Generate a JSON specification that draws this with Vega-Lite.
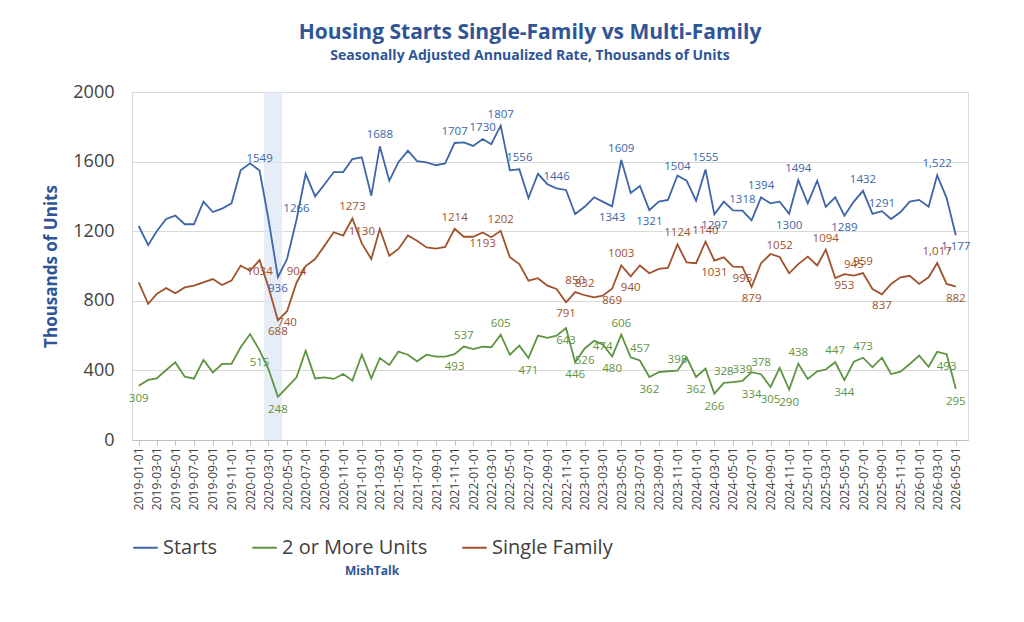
{
"$schema":"https://vega.github.io/schema/vega-lite/v6.json",
"width":836,"height":348,
"padding":{"left":42,"top":22,"right":5,"bottom":5},
"background":"white",
"title":{"text":"Housing Starts Single-Family vs Multi-Family","subtitle":"Seasonally Adjusted Annualized Rate, Thousands of Units","color":"#2f5597","subtitleColor":"#2f5597","fontSize":21,"subtitleFontSize":14,"subtitleFontWeight":"bold","font":"Open Sans","subtitleFont":"Open Sans","fontWeight":"bold","anchor":"middle","offset":20,"subtitlePadding":6,"dx":-20},
"config":{"view":{"stroke":"#d9d9d9"},"font":"Open Sans"},
"datasets":{
"main":[
{"d":"2019-01-01","S":1230,"F":906,"M":312},{"d":"2019-02-01","S":1120,"F":782,"M":345},{"d":"2019-03-01","S":1200,"F":839,"M":354},{"d":"2019-04-01","S":1270,"F":873,"M":402},{"d":"2019-05-01","S":1290,"F":843,"M":446},{"d":"2019-06-01","S":1240,"F":877,"M":364},{"d":"2019-07-01","S":1240,"F":887,"M":352},{"d":"2019-08-01","S":1370,"F":906,"M":460},{"d":"2019-09-01","S":1310,"F":925,"M":389},{"d":"2019-10-01","S":1330,"F":891,"M":437},{"d":"2019-11-01","S":1360,"F":916,"M":437},{"d":"2019-12-01","S":1550,"F":1002,"M":533},
{"d":"2020-01-01","S":1590,"F":973,"M":609},{"d":"2020-02-01","S":1549,"F":1034,"M":515},{"d":"2020-03-01","S":1270,"F":879,"M":408},{"d":"2020-04-01","S":936,"F":688,"M":248},{"d":"2020-05-01","S":1040,"F":740,"M":303},{"d":"2020-06-01","S":1266,"F":904,"M":360},{"d":"2020-07-01","S":1530,"F":1000,"M":513},{"d":"2020-08-01","S":1400,"F":1040,"M":354},{"d":"2020-09-01","S":1470,"F":1117,"M":360},{"d":"2020-10-01","S":1540,"F":1194,"M":351},{"d":"2020-11-01","S":1540,"F":1175,"M":379},{"d":"2020-12-01","S":1615,"F":1273,"M":341},
{"d":"2021-01-01","S":1625,"F":1130,"M":490},{"d":"2021-02-01","S":1404,"F":1040,"M":354},{"d":"2021-03-01","S":1688,"F":1213,"M":471},{"d":"2021-04-01","S":1490,"F":1059,"M":431},{"d":"2021-05-01","S":1597,"F":1098,"M":508},{"d":"2021-06-01","S":1663,"F":1175,"M":490},{"d":"2021-07-01","S":1603,"F":1145,"M":452},{"d":"2021-08-01","S":1596,"F":1107,"M":490},{"d":"2021-09-01","S":1579,"F":1100,"M":479},{"d":"2021-10-01","S":1590,"F":1110,"M":479},{"d":"2021-11-01","S":1707,"F":1214,"M":493},{"d":"2021-12-01","S":1710,"F":1168,"M":537},
{"d":"2022-01-01","S":1690,"F":1168,"M":523},{"d":"2022-02-01","S":1730,"F":1193,"M":537},{"d":"2022-03-01","S":1700,"F":1165,"M":533},{"d":"2022-04-01","S":1807,"F":1202,"M":605},{"d":"2022-05-01","S":1550,"F":1050,"M":490},{"d":"2022-06-01","S":1556,"F":1011,"M":542},{"d":"2022-07-01","S":1390,"F":916,"M":471},{"d":"2022-08-01","S":1530,"F":930,"M":600},{"d":"2022-09-01","S":1470,"F":887,"M":587},{"d":"2022-10-01","S":1446,"F":868,"M":600},{"d":"2022-11-01","S":1437,"F":791,"M":643},{"d":"2022-12-01","S":1299,"F":850,"M":446},
{"d":"2023-01-01","S":1340,"F":832,"M":526},{"d":"2023-02-01","S":1395,"F":820,"M":570},{"d":"2023-03-01","S":1370,"F":829,"M":550},{"d":"2023-04-01","S":1343,"F":869,"M":480},{"d":"2023-05-01","S":1609,"F":1003,"M":606},{"d":"2023-06-01","S":1420,"F":940,"M":475},{"d":"2023-07-01","S":1460,"F":1003,"M":457},{"d":"2023-08-01","S":1321,"F":958,"M":362},{"d":"2023-09-01","S":1370,"F":983,"M":390},{"d":"2023-10-01","S":1380,"F":989,"M":395},{"d":"2023-11-01","S":1520,"F":1124,"M":398},{"d":"2023-12-01","S":1490,"F":1021,"M":475},
{"d":"2024-01-01","S":1375,"F":1016,"M":362},{"d":"2024-02-01","S":1555,"F":1140,"M":410},{"d":"2024-03-01","S":1297,"F":1031,"M":266},{"d":"2024-04-01","S":1370,"F":1050,"M":328},{"d":"2024-05-01","S":1320,"F":996,"M":333},{"d":"2024-06-01","S":1318,"F":995,"M":339},{"d":"2024-07-01","S":1262,"F":879,"M":390},{"d":"2024-08-01","S":1394,"F":1016,"M":378},{"d":"2024-09-01","S":1360,"F":1069,"M":305},{"d":"2024-10-01","S":1370,"F":1052,"M":414},{"d":"2024-11-01","S":1300,"F":958,"M":290},{"d":"2024-12-01","S":1494,"F":1011,"M":438},
{"d":"2025-01-01","S":1360,"F":1054,"M":351},{"d":"2025-02-01","S":1490,"F":1003,"M":395},{"d":"2025-03-01","S":1340,"F":1094,"M":405},{"d":"2025-04-01","S":1395,"F":931,"M":447},{"d":"2025-05-01","S":1289,"F":953,"M":344},{"d":"2025-06-01","S":1370,"F":945,"M":450},{"d":"2025-07-01","S":1432,"F":959,"M":473},{"d":"2025-08-01","S":1300,"F":868,"M":418},{"d":"2025-09-01","S":1315,"F":837,"M":473},{"d":"2025-10-01","S":1270,"F":897,"M":379},{"d":"2025-11-01","S":1310,"F":935,"M":393},{"d":"2025-12-01","S":1370,"F":944,"M":437},
{"d":"2026-01-01","S":1380,"F":897,"M":485},{"d":"2026-02-01","S":1340,"F":935,"M":421},{"d":"2026-03-01","S":1522,"F":1017,"M":507},{"d":"2026-04-01","S":1390,"F":897,"M":493},{"d":"2026-05-01","S":1177,"F":882,"M":295}
],
"labels":[
{"d":"2020-02-01","s":"Starts","v":1549,"t":"1549"},{"d":"2020-04-01","s":"Starts","v":936,"t":"936"},{"d":"2020-06-01","s":"Starts","v":1266,"t":"1266"},{"d":"2021-03-01","s":"Starts","v":1688,"t":"1688"},{"d":"2021-11-01","s":"Starts","v":1707,"t":"1707"},{"d":"2022-02-01","s":"Starts","v":1730,"t":"1730"},{"d":"2022-04-01","s":"Starts","v":1807,"t":"1807"},{"d":"2022-06-01","s":"Starts","v":1556,"t":"1556"},{"d":"2022-10-01","s":"Starts","v":1446,"t":"1446"},{"d":"2023-04-01","s":"Starts","v":1343,"t":"1343"},{"d":"2023-05-01","s":"Starts","v":1609,"t":"1609"},{"d":"2023-08-01","s":"Starts","v":1321,"t":"1321"},{"d":"2023-11-01","s":"Starts","v":1504,"t":"1504"},{"d":"2024-02-01","s":"Starts","v":1555,"t":"1555"},{"d":"2024-03-01","s":"Starts","v":1297,"t":"1297"},{"d":"2024-06-01","s":"Starts","v":1318,"t":"1318"},{"d":"2024-08-01","s":"Starts","v":1394,"t":"1394"},{"d":"2024-11-01","s":"Starts","v":1300,"t":"1300"},{"d":"2024-12-01","s":"Starts","v":1494,"t":"1494"},{"d":"2025-05-01","s":"Starts","v":1289,"t":"1289"},{"d":"2025-07-01","s":"Starts","v":1432,"t":"1432"},{"d":"2025-09-01","s":"Starts","v":1291,"t":"1291"},{"d":"2026-03-01","s":"Starts","v":1522,"t":"1,522"},{"d":"2026-05-01","s":"Starts","v":1177,"t":"1,177"},
{"d":"2020-02-01","s":"Single Family","v":1034,"t":"1034"},{"d":"2020-04-01","s":"Single Family","v":688,"t":"688"},{"d":"2020-05-01","s":"Single Family","v":740,"t":"740"},{"d":"2020-06-01","s":"Single Family","v":904,"t":"904"},{"d":"2020-12-01","s":"Single Family","v":1273,"t":"1273"},{"d":"2021-01-01","s":"Single Family","v":1130,"t":"1130"},{"d":"2021-11-01","s":"Single Family","v":1214,"t":"1214"},{"d":"2022-02-01","s":"Single Family","v":1193,"t":"1193"},{"d":"2022-04-01","s":"Single Family","v":1202,"t":"1202"},{"d":"2022-11-01","s":"Single Family","v":791,"t":"791"},{"d":"2022-12-01","s":"Single Family","v":850,"t":"850"},{"d":"2023-01-01","s":"Single Family","v":832,"t":"832"},{"d":"2023-04-01","s":"Single Family","v":869,"t":"869"},{"d":"2023-05-01","s":"Single Family","v":1003,"t":"1003"},{"d":"2023-06-01","s":"Single Family","v":940,"t":"940"},{"d":"2023-11-01","s":"Single Family","v":1124,"t":"1124"},{"d":"2024-02-01","s":"Single Family","v":1140,"t":"1140"},{"d":"2024-03-01","s":"Single Family","v":1031,"t":"1031"},{"d":"2024-06-01","s":"Single Family","v":995,"t":"995"},{"d":"2024-07-01","s":"Single Family","v":879,"t":"879"},{"d":"2024-10-01","s":"Single Family","v":1052,"t":"1052"},{"d":"2025-03-01","s":"Single Family","v":1094,"t":"1094"},{"d":"2025-05-01","s":"Single Family","v":953,"t":"953"},{"d":"2025-06-01","s":"Single Family","v":945,"t":"945"},{"d":"2025-07-01","s":"Single Family","v":959,"t":"959"},{"d":"2025-09-01","s":"Single Family","v":837,"t":"837"},{"d":"2026-03-01","s":"Single Family","v":1017,"t":"1,017"},{"d":"2026-05-01","s":"Single Family","v":882,"t":"882"},
{"d":"2019-01-01","s":"2 or More Units","v":309,"t":"309"},{"d":"2020-02-01","s":"2 or More Units","v":515,"t":"515"},{"d":"2020-04-01","s":"2 or More Units","v":248,"t":"248"},{"d":"2021-11-01","s":"2 or More Units","v":493,"t":"493"},{"d":"2021-12-01","s":"2 or More Units","v":537,"t":"537"},{"d":"2022-04-01","s":"2 or More Units","v":605,"t":"605"},{"d":"2022-07-01","s":"2 or More Units","v":471,"t":"471"},{"d":"2022-11-01","s":"2 or More Units","v":643,"t":"643"},{"d":"2022-12-01","s":"2 or More Units","v":446,"t":"446"},{"d":"2023-01-01","s":"2 or More Units","v":526,"t":"526"},{"d":"2023-03-01","s":"2 or More Units","v":474,"t":"474"},{"d":"2023-04-01","s":"2 or More Units","v":480,"t":"480"},{"d":"2023-05-01","s":"2 or More Units","v":606,"t":"606"},{"d":"2023-07-01","s":"2 or More Units","v":457,"t":"457"},{"d":"2023-08-01","s":"2 or More Units","v":362,"t":"362"},{"d":"2023-11-01","s":"2 or More Units","v":398,"t":"398"},{"d":"2024-01-01","s":"2 or More Units","v":362,"t":"362"},{"d":"2024-03-01","s":"2 or More Units","v":266,"t":"266"},{"d":"2024-04-01","s":"2 or More Units","v":328,"t":"328"},{"d":"2024-06-01","s":"2 or More Units","v":339,"t":"339"},{"d":"2024-07-01","s":"2 or More Units","v":334,"t":"334"},{"d":"2024-08-01","s":"2 or More Units","v":378,"t":"378"},{"d":"2024-09-01","s":"2 or More Units","v":305,"t":"305"},{"d":"2024-11-01","s":"2 or More Units","v":290,"t":"290"},{"d":"2024-12-01","s":"2 or More Units","v":438,"t":"438"},{"d":"2025-04-01","s":"2 or More Units","v":447,"t":"447"},{"d":"2025-05-01","s":"2 or More Units","v":344,"t":"344"},{"d":"2025-07-01","s":"2 or More Units","v":473,"t":"473"},{"d":"2026-04-01","s":"2 or More Units","v":493,"t":"493"},{"d":"2026-05-01","s":"2 or More Units","v":295,"t":"295"}
],
"band":[{"a":"2020-02-15","b":"2020-04-15"}]
},
"layer":[
{"data":{"name":"band"},"mark":{"type":"rect","color":"#dce6f4","opacity":0.7},
 "encoding":{"x":{"field":"a","type":"temporal"},"x2":{"field":"b"}}},
{"data":{"name":"main"},
 "transform":[{"fold":["S","M","F"],"as":["k","v"]},{"lookup":"k","from":{"data":{"values":[{"k":"S","s":"Starts"},{"k":"M","s":"2 or More Units"},{"k":"F","s":"Single Family"}]},"key":"k","fields":["s"]}}],
 "mark":{"type":"line","strokeWidth":1.8},
 "encoding":{
  "x":{"field":"d","type":"temporal","scale":{"domain":["2018-12-10","2026-06-10"]},
   "axis":{"format":"%Y-%m-01","labelAngle":-90,"tickCount":{"interval":"month","step":2},"title":null,"grid":false,"labelFontSize":12,"labelColor":"#404040","domainColor":"#bfbfbf","tickColor":"#bfbfbf"}},
  "y":{"field":"v","type":"quantitative","scale":{"domain":[0,2000]},
   "axis":{"values":[0,200,400,600,800,1000,1200,1400,1600,1800,2000],"format":"d","title":"Thousands of Units","titleColor":"#2f5597","titleFontSize":17,"titleFontWeight":"bold","labelFontSize":18,"labelColor":"#404040","domain":false,"ticks":false,"gridColor":"#d9d9d9","labelPadding":18,"titlePadding":12}},
  "color":{"field":"s","type":"nominal","sort":["Starts","2 or More Units","Single Family"],
   "scale":{"domain":["Starts","2 or More Units","Single Family"],"range":["#3d65a8","#5e9441","#a0522d"]},
   "legend":{"orient":"bottom","direction":"horizontal","title":"MishTalk","titleOrient":"bottom","titleAnchor":"middle","titleColor":"#2f5597","titleFontSize":12,"titleFontWeight":"bold","titlePadding":8,"labelFontSize":20,"labelColor":"#404040","symbolType":"stroke","symbolStrokeWidth":2,"symbolSize":600,"columnPadding":30,"offset":24}},
  "order":{"field":"d"}
 }},
{"data":{"name":"labels"},"transform":[{"filter":"datum.s==='Starts' && indexof(['936','1297','1289','1,177','1321','1343','1300'], datum.t) < 0"}],
 "mark":{"type":"text","dy":-11,"fontSize":11.5,"color":"#3d65a8"},
 "encoding":{"x":{"field":"d","type":"temporal"},"y":{"field":"v","type":"quantitative"},"text":{"field":"t"}}},
{"data":{"name":"labels"},"transform":[{"filter":"datum.s==='Starts' && indexof(['936','1297','1289','1,177','1321','1343','1300'], datum.t) >= 0"}],
 "mark":{"type":"text","dy":12,"fontSize":11.5,"color":"#3d65a8"},
 "encoding":{"x":{"field":"d","type":"temporal"},"y":{"field":"v","type":"quantitative"},"text":{"field":"t"}}},
{"data":{"name":"labels"},"transform":[{"filter":"datum.s==='Single Family' && indexof(['688','740','791','869','940','879','995','953','837','882','1031','1034','1193'], datum.t) < 0"}],
 "mark":{"type":"text","dy":-11,"fontSize":11.5,"color":"#a0522d"},
 "encoding":{"x":{"field":"d","type":"temporal"},"y":{"field":"v","type":"quantitative"},"text":{"field":"t"}}},
{"data":{"name":"labels"},"transform":[{"filter":"datum.s==='Single Family' && indexof(['688','740','791','869','940','879','995','953','837','882','1031','1034','1193'], datum.t) >= 0"}],
 "mark":{"type":"text","dy":12,"fontSize":11.5,"color":"#a0522d"},
 "encoding":{"x":{"field":"d","type":"temporal"},"y":{"field":"v","type":"quantitative"},"text":{"field":"t"}}},
{"data":{"name":"labels"},"transform":[{"filter":"datum.s==='2 or More Units' && indexof(['537','605','474','606','457','398','328','339','378','438','447','473'], datum.t) >= 0"}],
 "mark":{"type":"text","dy":-11,"fontSize":11.5,"color":"#5e9441"},
 "encoding":{"x":{"field":"d","type":"temporal"},"y":{"field":"v","type":"quantitative"},"text":{"field":"t"}}},
{"data":{"name":"labels"},"transform":[{"filter":"datum.s==='2 or More Units' && indexof(['537','605','474','606','457','398','328','339','378','438','447','473'], datum.t) < 0"}],
 "mark":{"type":"text","dy":13,"fontSize":11.5,"color":"#5e9441"},
 "encoding":{"x":{"field":"d","type":"temporal"},"y":{"field":"v","type":"quantitative"},"text":{"field":"t"}}}
]
}
